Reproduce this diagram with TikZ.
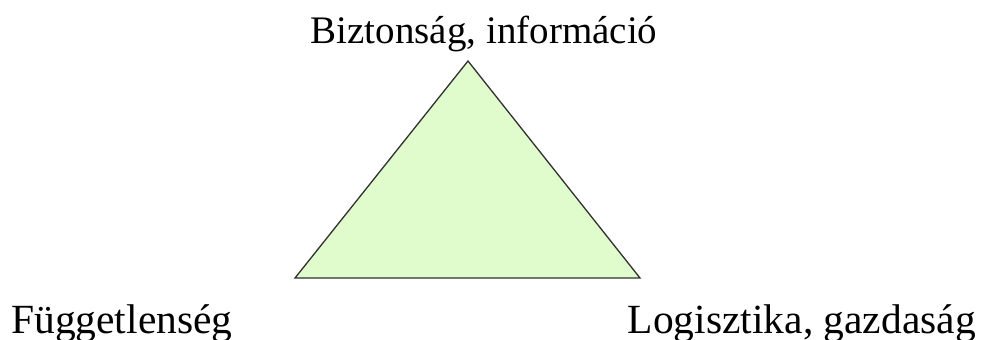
\documentclass[tikz,border=0pt]{standalone}
\usepackage{fontspec}
\setmainfont{Liberation Serif}
\definecolor{trifill}{HTML}{E0FCCC}
\definecolor{triline}{HTML}{303030}
\begin{document}
\begin{tikzpicture}[x=1pt,y=-1pt,
  lbl/.style={inner sep=0pt,font=\fontsize{39}{44}\selectfont},
  lblb/.style={inner sep=0pt,font=\fontsize{41.5}{46}\selectfont}]
\useasboundingbox (0,0) rectangle (983,340);
\coordinate (apex) at (468,61);
\coordinate (bl) at (295,278);
\coordinate (br) at (640,278);
\draw[fill=trifill,draw=triline,line width=1.3pt,line join=miter] (apex) -- (br) -- (bl) -- cycle;
\node[lbl,anchor=base] (top) at (484,43) {Biztonság, információ};
\node[lblb,anchor=base west] (left) at (11,333) {Függetlenség};
\node[lblb,anchor=base east] (right) at (976,333) {Logisztika, gazdaság};
\end{tikzpicture}
\end{document}
